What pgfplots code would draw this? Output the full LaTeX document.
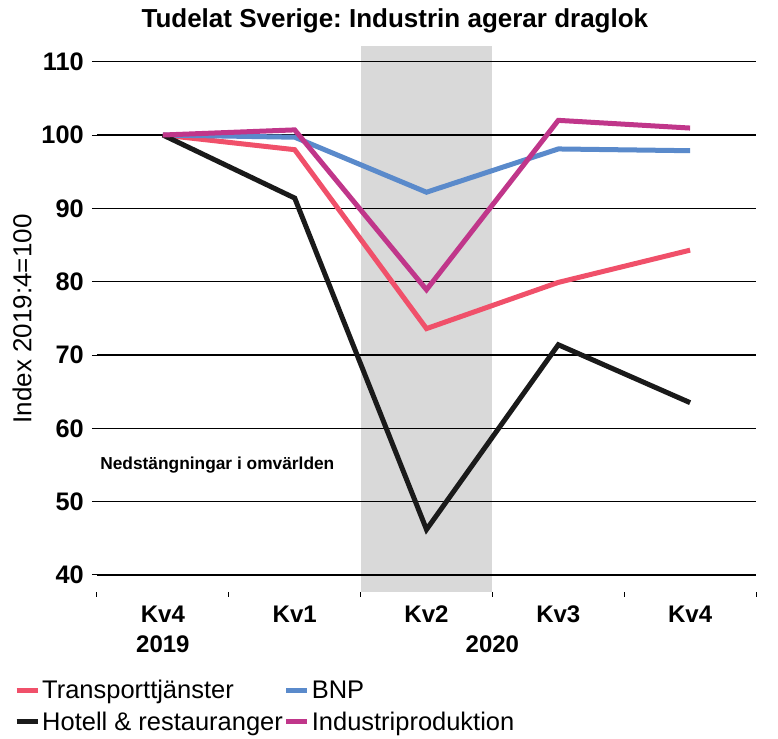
\documentclass[border=0pt]{standalone}
\usepackage{fontspec}
\setmainfont{Liberation Sans}
\usepackage{pgfplots}
\pgfplotsset{compat=1.18}
\frenchspacing
\newlength\px \setlength\px{0.75pt}
\definecolor{transp}{HTML}{F0506A}
\definecolor{bnp}{HTML}{5A8ACB}
\definecolor{hotell}{HTML}{1A1A1A}
\definecolor{industri}{HTML}{C0368A}
\definecolor{band}{HTML}{D9D9D9}
\begin{document}
\begin{tikzpicture}
\begin{axis}[
  set layers,
  scale only axis, width=659\px, height=545.7\px,
  xmin=-0.5, xmax=4.5, ymin=37.72, ymax=112.14,
  axis line style={draw=none},
  /pgf/number format/assume math mode=true,
  xtick={-0.5,0.5,1.5,2.5,3.5,4.5}, xticklabels={},
  extra x ticks={0,1,2,3,4},
  extra x tick labels={Kv4,Kv1,Kv2,Kv3,Kv4},
  extra x tick style={major tick length=0pt, tick style={draw=none},
     tick label style={anchor=base, yshift=-31\px}},
  ytick={40,50,...,110},
  ymajorgrids, grid style={black, line width=1.2\px},
  tick align=outside, tick pos=left,
  major tick length=5\px,
  tick style={black, line width=1\px},
  yticklabel style={font=\bfseries\fontsize{19}{20}\selectfont, inner sep=0pt, xshift=-8\px},
  xticklabel style={font=\bfseries\fontsize{18}{20}\selectfont},
  ylabel={Index 2019:4=100},
  ylabel style={at={(rel axis cs:-0.1138,0.5)}, anchor=center, font=\fontsize{19.5}{22}\selectfont},
  legend columns=2,
  legend cell align=left,
  legend style={at={(rel axis cs:-0.126,-0.160)}, anchor=north west, draw=none, fill=none,
     inner sep=0pt, font=\fontsize{19.1}{22}\selectfont, row sep=9\px,
     nodes={inner sep=1\px},
     /tikz/every odd column/.append style={column sep=1\px},
     /tikz/every even column/.append style={column sep=0\px}},
  legend image code/.code={\draw[#1, line width=5\px] (0,0) -- (21\px,0);},
  clip mode=individual,
]
\addplot[fill=band, draw=none, forget plot, on layer=axis background] coordinates {(1.5,112.14) (2.5,112.14)} \closedcycle;
\addplot[transp, line width=5\px] coordinates {(0,100) (1,98.0) (2,73.6) (3,79.9) (4,84.3)};
\addlegendentry{Transporttjänster}
\addplot[bnp, line width=5\px] coordinates {(0,100) (1,99.7) (2,92.2) (3,98.1) (4,97.86)};
\addlegendentry{BNP}
\addplot[hotell, line width=5\px] coordinates {(0,100) (1,91.4) (2,46.2) (3,71.4) (4,63.5)};
\addlegendentry{Hotell \& restauranger}
\addplot[industri, line width=5\px] coordinates {(0,100) (1,100.7) (2,78.9) (3,102.0) (4,100.95)};
\addlegendentry{Industriproduktion}
\coordinate (bl) at (rel axis cs:0,0);
\coordinate (tr) at (rel axis cs:1,1);
\node[anchor=base west, inner sep=0pt, font=\bfseries\fontsize{13}{15}\selectfont] at (axis cs:-0.477,54.45) {Nedstängningar i omvärlden};
\node[anchor=base, inner sep=0pt, font=\bfseries\fontsize{18}{20}\selectfont, yshift=-61\px] at (axis cs:0,37.72) {2019};
\node[anchor=base, inner sep=0pt, font=\bfseries\fontsize{18}{20}\selectfont, yshift=-61\px] at (axis cs:2.5,37.72) {2020};
\node[anchor=base, inner sep=0pt, font=\bfseries\fontsize{19.5}{22}\selectfont, yshift=18\px] at (rel axis cs:0.452,1) {Tudelat Sverige: Industrin agerar draglok};
\end{axis}
\pgfresetboundingbox
\path ([shift={(-97\px,-146.3\px)}]bl) rectangle ([shift={(22\px,46\px)}]tr);
\end{tikzpicture}
\end{document}
